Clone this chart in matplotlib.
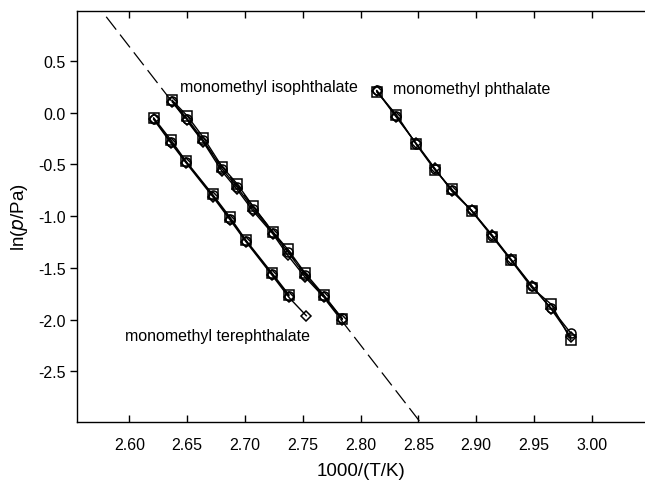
import numpy as np
import matplotlib
matplotlib.use('Agg')
import matplotlib.pyplot as plt

plt.rcParams['font.family'] = ['Liberation Sans', 'DejaVu Sans']

# monomethyl phthalate (circle / square / diamond runs)
pht_x = [2.814, 2.831, 2.848, 2.864, 2.879, 2.896, 2.914, 2.930, 2.948, 2.965, 2.982]
pht_circle = [0.215, -0.036, -0.299, -0.541, -0.750, -0.943, -1.194, -1.419, -1.676, -1.892, -2.133]
pht_square = [0.20, -0.020, -0.305, -0.550, -0.740, -0.950, -1.200, -1.425, -1.690, -1.853, -2.197]
pht_diamond = [0.21, -0.045, -0.295, -0.535, -0.760, -0.945, -1.185, -1.415, -1.670, -1.900, -2.170]

# monomethyl isophthalate
iso_x = [2.637, 2.650, 2.664, 2.680, 2.693, 2.707, 2.724, 2.737, 2.752, 2.768, 2.784]
iso_circle = [0.113, -0.058, -0.267, -0.541, -0.718, -0.927, -1.161, -1.345, -1.570, -1.770, -1.988]
iso_square = [0.120, -0.030, -0.240, -0.520, -0.685, -0.905, -1.150, -1.320, -1.550, -1.760, -1.990]
iso_diamond = [0.105, -0.070, -0.285, -0.565, -0.740, -0.950, -1.170, -1.378, -1.590, -1.780, -2.000]

# monomethyl terephthalate
ter_x = [2.621, 2.636, 2.649, 2.672, 2.687, 2.701, 2.723, 2.738, 2.753]
ter_circle = [-0.058, -0.283, -0.476, -0.798, -1.023, -1.242, -1.554, -1.770, None]
ter_square = [-0.050, -0.265, -0.470, -0.790, -1.010, -1.235, -1.545, -1.760, None]
ter_diamond = [-0.065, -0.295, -0.485, -0.810, -1.035, -1.250, -1.565, -1.785, -1.962]

labels = ['monomethyl isophthalate', 'monomethyl phthalate', 'monomethyl terephthalate']
label_pos = [(2.644, 0.25), (2.828, 0.23), (2.596, -2.15)]

xticks = [2.60, 2.65, 2.70, 2.75, 2.80, 2.85, 2.90, 2.95, 3.00]
yticks = [-2.5, -2.0, -1.5, -1.0, -0.5, 0.0, 0.5]

fig = plt.figure(figsize=(6.45, 4.85), dpi=100)
ax = fig.add_axes([0.120, 0.1285, 0.880, 0.8474])

xlim = (2.555, 3.046)
ylim = (-2.986, 0.986)

# dashed extrapolation of the isophthalate fit
coef = np.polyfit(iso_x, iso_circle, 1)
xx = np.array(xlim)
ax.plot(xx, np.polyval(coef, xx), color='black', lw=0.9, dashes=(13, 5), zorder=1)

markers = ['o', 's', 'D']
for xs, runs in [(pht_x, [pht_circle, pht_square, pht_diamond]),
                 (iso_x, [iso_circle, iso_square, iso_diamond]),
                 (ter_x, [ter_circle, ter_square, ter_diamond])]:
    for m, ys in zip(markers, runs):
        pts = [(x, y) for x, y in zip(xs, ys) if y is not None]
        px = [p[0] for p in pts]
        py = [p[1] for p in pts]
        ms = 6.5 if m != 'D' else 5.5
        ax.plot(px, py, color='black', lw=1.0, zorder=2)
        ax.plot(px, py, ls='none', marker=m, ms=ms, mfc='none', mec='black',
                mew=1.1, zorder=3)

for txt, (tx, ty) in zip(labels, label_pos):
    ax.text(tx, ty, txt, fontsize=11.5, ha='left', va='center')

ax.set_xlim(xlim)
ax.set_ylim(ylim)
ax.set_xticks(xticks)
ax.set_xticklabels(['%.2f' % v for v in xticks])
ax.set_yticks(yticks)
ax.set_yticklabels(['%.1f' % v for v in yticks])

ax.spines['right'].set_visible(False)
for s in ['left', 'bottom', 'top']:
    ax.spines[s].set_linewidth(1.0)

ax.tick_params(axis='x', direction='in', top=True, length=5, width=1.0,
               labelsize=11.5, pad=11)
ax.tick_params(axis='y', direction='out', right=False, length=5, width=1.0,
               labelsize=11.5)

ax.set_xlabel('1000/(T/K)', fontsize=13.5, labelpad=7)
ax.set_ylabel(r'ln($\it{p}$/Pa)', fontsize=13.5, labelpad=6)

fig.savefig('out.png', dpi=100)
